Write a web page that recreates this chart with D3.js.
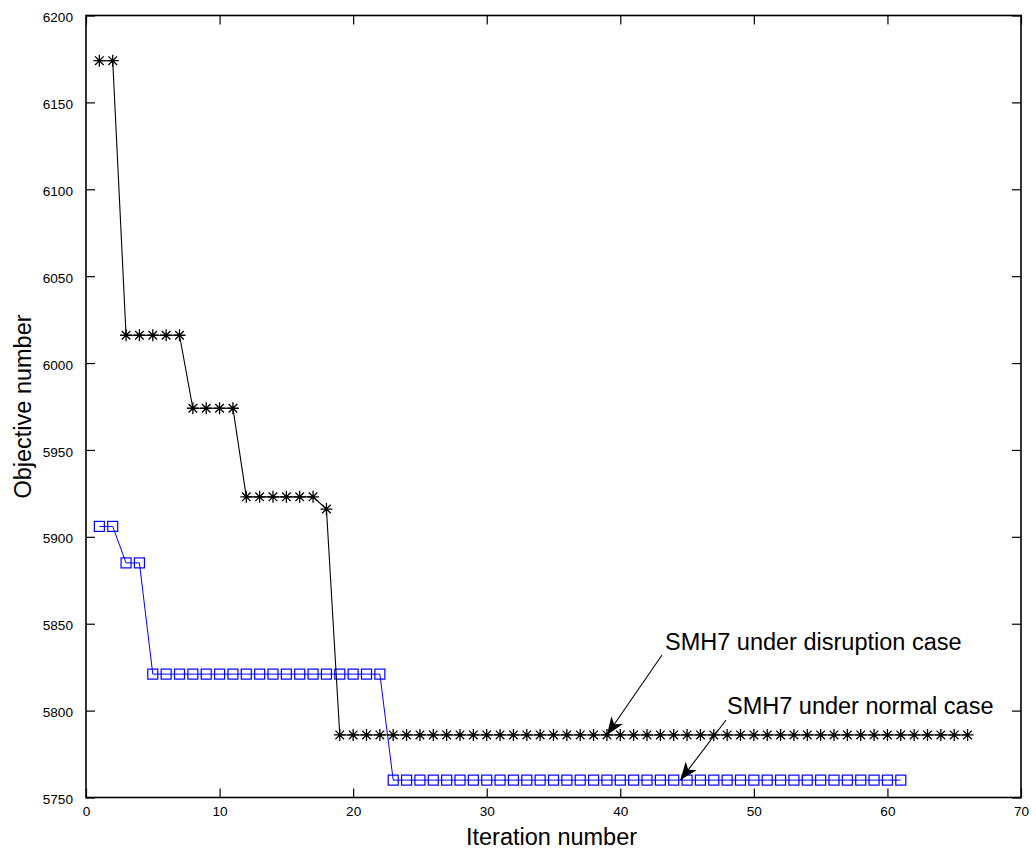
<!DOCTYPE html>
<html>
<head>
<meta charset="utf-8">
<script src="https://cdn.jsdelivr.net/npm/d3@7"></script>
<style>
  html, body { margin: 0; padding: 0; background: #fff; }
  svg { display: block; font-family: "Liberation Sans", Arial, Helvetica, sans-serif; }
</style>
</head>
<body>
<svg id="chart" width="1036" height="853"></svg>
<script>
// ---- data ----
const disruptionX = d3.range(1, 67);
const disruptionY = [
  6174, 6174,
  6016, 6016, 6016, 6016, 6016,
  5974, 5974, 5974, 5974,
  5923, 5923, 5923, 5923, 5923, 5923,
  5916,
  5786, 5786, 5786, 5786, 5786, 5786, 5786, 5786, 5786, 5786,
  5786, 5786, 5786, 5786, 5786, 5786, 5786, 5786, 5786, 5786,
  5786, 5786, 5786, 5786, 5786, 5786, 5786, 5786, 5786, 5786,
  5786, 5786, 5786, 5786, 5786, 5786, 5786, 5786, 5786, 5786,
  5786, 5786, 5786, 5786, 5786, 5786, 5786, 5786
];
const normalX = d3.range(1, 62);
const normalY = [
  5906, 5906,
  5885, 5885,
  5821, 5821, 5821, 5821, 5821, 5821, 5821, 5821, 5821,
  5821, 5821, 5821, 5821, 5821, 5821, 5821, 5821, 5821,
  5760, 5760, 5760, 5760, 5760, 5760, 5760, 5760, 5760, 5760,
  5760, 5760, 5760, 5760, 5760, 5760, 5760, 5760, 5760, 5760,
  5760, 5760, 5760, 5760, 5760, 5760, 5760, 5760, 5760, 5760,
  5760, 5760, 5760, 5760, 5760, 5760, 5760, 5760, 5760
];
const xTicks = [0, 10, 20, 30, 40, 50, 60, 70];
const yTicks = [5750, 5800, 5850, 5900, 5950, 6000, 6050, 6100, 6150, 6200];
const xLabel = "Iteration number";
const yLabel = "Objective number";
const annotations = [
  { text: "SMH7 under disruption case", tx: 665, ty: 650, from: [662, 655], to: [39, 5786] },
  { text: "SMH7 under normal case", tx: 727, ty: 714, from: [726, 720], to: [44.5, 5760] }
];

// ---- layout ----
const L = 86, R = 1021, T = 15.5, B = 797.5;
const svg = d3.select("#chart");
const x = d3.scaleLinear().domain([0, 70]).range([L, R]);
const y = d3.scaleLinear().domain([5750, 6200]).range([B, T]);

// defs: arrow marker
svg.append("defs").append("marker")
  .attr("id", "arrow").attr("viewBox", "0 0 18 14")
  .attr("refX", 18).attr("refY", 7)
  .attr("markerWidth", 18).attr("markerHeight", 14)
  .attr("markerUnits", "userSpaceOnUse")
  .attr("orient", "auto")
  .append("path").attr("d", "M0,0 L18,7 L0,14 L5,7 Z").attr("fill", "#000");

// axes (box with inward ticks)
const tickLen = 9;
const gx = svg.append("g").attr("transform", `translate(0,${B})`)
  .call(d3.axisBottom(x).tickValues(xTicks).tickSizeInner(-tickLen).tickSizeOuter(0).tickPadding(8).tickFormat(d3.format("d")));
const gxt = svg.append("g").attr("transform", `translate(0,${T})`)
  .call(d3.axisTop(x).tickValues(xTicks).tickSizeInner(-tickLen).tickSizeOuter(0).tickFormat(""));
const gy = svg.append("g").attr("transform", `translate(${L},0)`)
  .call(d3.axisLeft(y).tickValues(yTicks).tickSizeInner(-tickLen).tickSizeOuter(0).tickPadding(13).tickFormat(d3.format("d")));
const gyr = svg.append("g").attr("transform", `translate(${R},0)`)
  .call(d3.axisRight(y).tickValues(yTicks).tickSizeInner(-tickLen).tickSizeOuter(0).tickFormat(""));

[gx, gxt, gy, gyr].forEach(g => {
  g.select(".domain").remove();
  g.selectAll(".tick line").attr("stroke", "#000").attr("stroke-width", 1.2);
  g.selectAll(".tick text").attr("fill", "#000").attr("font-size", 13.6)
    .attr("font-family", "'Liberation Sans', Arial, sans-serif");
});
gy.selectAll(".tick text").attr("dy", "0.45em");
gx.selectAll(".tick text").attr("dy", "0.75em");

// box frame
svg.append("rect").attr("x", L).attr("y", T).attr("width", R - L).attr("height", B - T)
  .attr("fill", "none").attr("stroke", "#000").attr("stroke-width", 1.6);

// axis labels
svg.append("text").attr("x", (L + R) / 2 - 2).attr("y", 845)
  .attr("text-anchor", "middle").attr("font-size", 23.5).attr("fill", "#000").text(xLabel);
svg.append("text").attr("transform", `translate(31,${(T + B) / 2}) rotate(-90)`)
  .attr("text-anchor", "middle").attr("font-size", 23.5).attr("fill", "#000").text(yLabel);

// series
const dis = disruptionX.map((d, i) => [d, disruptionY[i]]);
const nor = normalX.map((d, i) => [d, normalY[i]]);
const line = d3.line().x(d => x(d[0])).y(d => y(d[1]));

svg.append("path").datum(nor).attr("d", line).attr("fill", "none").attr("stroke", "#0000ff").attr("stroke-width", 1);
svg.append("g").selectAll("rect").data(nor).join("rect")
  .attr("x", d => x(d[0]) - 5).attr("y", d => y(d[1]) - 5)
  .attr("width", 10).attr("height", 10)
  .attr("fill", "none").attr("stroke", "#0000ff").attr("stroke-width", 1.2);

svg.append("path").datum(dis).attr("d", line).attr("fill", "none").attr("stroke", "#000").attr("stroke-width", 1.1);
const s = 6, sd = 4.3;
svg.append("g").selectAll("path").data(dis).join("path")
  .attr("d", d => {
    const cx = x(d[0]), cy = y(d[1]);
    return `M${cx - s},${cy}L${cx + s},${cy}M${cx},${cy - s}L${cx},${cy + s}` +
      `M${cx - sd},${cy - sd}L${cx + sd},${cy + sd}M${cx - sd},${cy + sd}L${cx + sd},${cy - sd}`;
  })
  .attr("fill", "none").attr("stroke", "#000").attr("stroke-width", 1.3);

// annotations
annotations.forEach(a => {
  svg.append("line")
    .attr("x1", a.from[0]).attr("y1", a.from[1])
    .attr("x2", x(a.to[0])).attr("y2", y(a.to[1]))
    .attr("stroke", "#000").attr("stroke-width", 1.1)
    .attr("marker-end", "url(#arrow)");
  svg.append("text").attr("x", a.tx).attr("y", a.ty)
    .attr("font-size", 23.5).attr("fill", "#000").text(a.text);
});
</script>
</body>
</html>
